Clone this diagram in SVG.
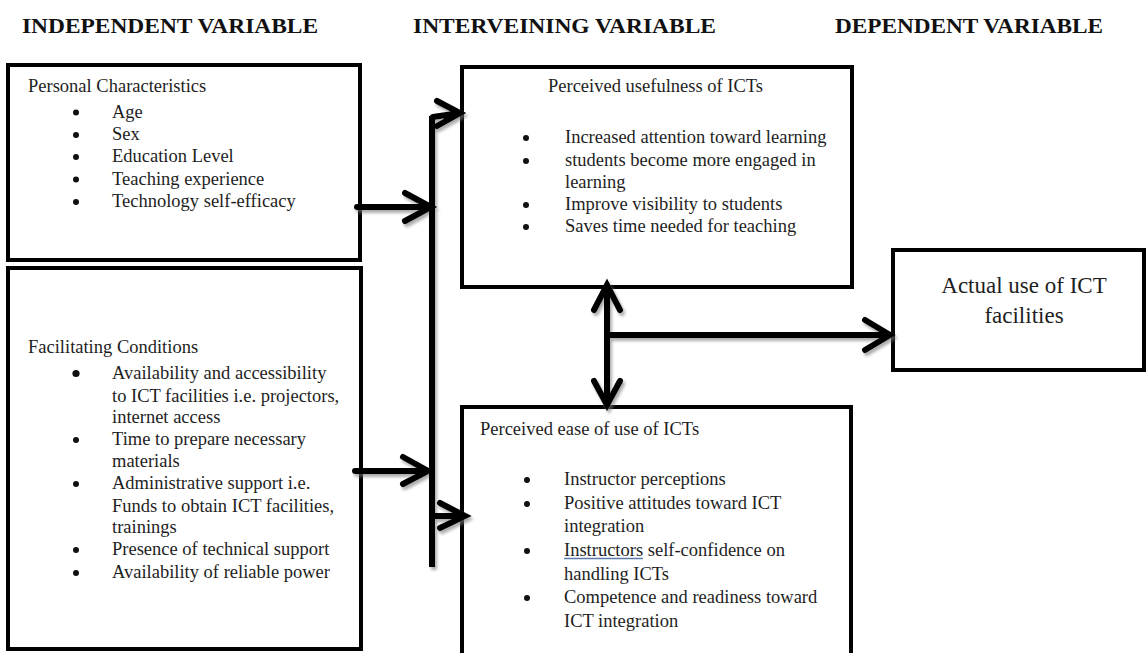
<svg xmlns="http://www.w3.org/2000/svg" width="1147" height="653" viewBox="0 0 1147 653">
<defs>
<style>
.box{fill:#fff;stroke:#000;stroke-width:4}
.t{font-family:"Liberation Serif","Times New Roman",serif;font-size:18.5px;fill:#1e1e1e}
.h{font-family:"Liberation Serif","Times New Roman",serif;font-size:22px;font-weight:bold;fill:#111}
.big{font-family:"Liberation Serif","Times New Roman",serif;font-size:23px;fill:#1e1e1e}
.b{fill:#111}
.c{fill:none;stroke:#000;stroke-width:6;stroke-linecap:round;stroke-linejoin:miter}
.bus{fill:none;stroke:#000;stroke-width:6;stroke-linecap:butt}
</style>
<filter id="sh" x="-20%" y="-20%" width="140%" height="140%">
<feDropShadow dx="2" dy="3" stdDeviation="1.5" flood-color="#777" flood-opacity="0.6"/>
</filter>
</defs>
<rect width="1147" height="653" fill="#fff"/>

<g id="headings">
<text class="h" x="22" y="33" textLength="296" lengthAdjust="spacingAndGlyphs">INDEPENDENT VARIABLE</text>
<text class="h" x="413" y="33" textLength="303" lengthAdjust="spacingAndGlyphs">INTERVEINING VARIABLE</text>
<text class="h" x="835" y="33" textLength="268" lengthAdjust="spacingAndGlyphs">DEPENDENT VARIABLE</text>
</g>

<g id="personal">
<rect class="box" x="8" y="65" width="352" height="195"/>
<text class="t" x="28" y="92">Personal Characteristics</text>
<circle class="b" cx="76" cy="112.5" r="3"/><text class="t" x="112" y="117.5">Age</text>
<circle class="b" cx="76" cy="135" r="3"/><text class="t" x="112" y="140">Sex</text>
<circle class="b" cx="76" cy="157" r="3"/><text class="t" x="112" y="162">Education Level</text>
<circle class="b" cx="76" cy="179.5" r="3"/><text class="t" x="112" y="184.5">Teaching experience</text>
<circle class="b" cx="76" cy="202" r="3"/><text class="t" x="112" y="207">Technology self-efficacy</text>
</g>

<g id="facilitating">
<rect class="box" x="8" y="268" width="353" height="381"/>
<text class="t" x="28" y="353">Facilitating Conditions</text>
<circle class="b" cx="76" cy="373.5" r="3.6"/><text class="t" x="112" y="379">Availability and accessibility</text>
<text class="t" x="112" y="401.5">to ICT facilities i.e. projectors,</text>
<text class="t" x="112" y="423">internet access</text>
<circle class="b" cx="76" cy="440" r="3"/><text class="t" x="112" y="445">Time to prepare necessary</text>
<text class="t" x="112" y="467">materials</text>
<circle class="b" cx="76" cy="484" r="3"/><text class="t" x="112" y="489">Administrative support i.e.</text>
<text class="t" x="112" y="511.5">Funds to obtain ICT facilities,</text>
<text class="t" x="112" y="533">trainings</text>
<circle class="b" cx="76" cy="550" r="3"/><text class="t" x="112" y="555">Presence of technical support</text>
<circle class="b" cx="76" cy="573" r="3"/><text class="t" x="112" y="578">Availability of reliable power</text>
</g>

<g id="usefulness">
<rect class="box" x="462" y="67" width="390" height="220"/>
<text class="t" x="548" y="92">Perceived usefulness of ICTs</text>
<circle class="b" cx="526" cy="138" r="3"/><text class="t" x="565" y="143">Increased attention toward learning</text>
<circle class="b" cx="526" cy="161" r="3"/><text class="t" x="565" y="166">students become more engaged in</text>
<text class="t" x="565" y="188">learning</text>
<circle class="b" cx="526" cy="205" r="3"/><text class="t" x="565" y="210">Improve visibility to students</text>
<circle class="b" cx="526" cy="227" r="3"/><text class="t" x="565" y="232">Saves time needed for teaching</text>
</g>

<g id="ease">
<rect class="box" x="462" y="407" width="389" height="252"/>
<text class="t" x="480" y="435">Perceived ease of use of ICTs</text>
<circle class="b" cx="527" cy="480" r="3"/><text class="t" x="564" y="485">Instructor perceptions</text>
<circle class="b" cx="527" cy="504" r="3"/><text class="t" x="564" y="509">Positive attitudes toward ICT</text>
<text class="t" x="564" y="532">integration</text>
<circle class="b" cx="527" cy="551" r="3"/><text class="t" x="564" y="556">Instructors self-confidence on</text>
<line x1="564" y1="558.5" x2="643" y2="558.5" stroke="#5a7bab" stroke-width="1.4"/>
<text class="t" x="564" y="579.5">handling ICTs</text>
<circle class="b" cx="527" cy="598" r="3"/><text class="t" x="564" y="603">Competence and readiness toward</text>
<text class="t" x="564" y="627">ICT integration</text>
</g>

<g id="actual">
<rect class="box" x="893" y="250" width="251" height="120"/>
<text class="big" x="1024" y="293" text-anchor="middle">Actual use of ICT</text>
<text class="big" x="1024" y="323" text-anchor="middle">facilities</text>
</g>

<g id="connectors" filter="url(#sh)">
<line class="bus" x1="432" y1="116" x2="432" y2="567"/>
<path class="c" d="M357,207 L431,207 M405,193 L431,207 L405,221"/>
<path class="c" d="M355,471 L428,471 M403,457 L428,471 L403,484"/>
<path class="c" d="M433,117 L460,113 M437,101 L460,113 L437,126"/>
<path class="c" stroke-width="5" d="M433,516 L465,516 M440,503 L465,516 L440,528"/>
<path class="c" d="M607,285 L607,405 M594,310 L607,285 L620,310 M594,381 L607,405 L620,381"/>
<path class="c" stroke-width="7" d="M607,335 L890,335 M865,320 L890,335 L865,350"/>
</g>
</svg>
